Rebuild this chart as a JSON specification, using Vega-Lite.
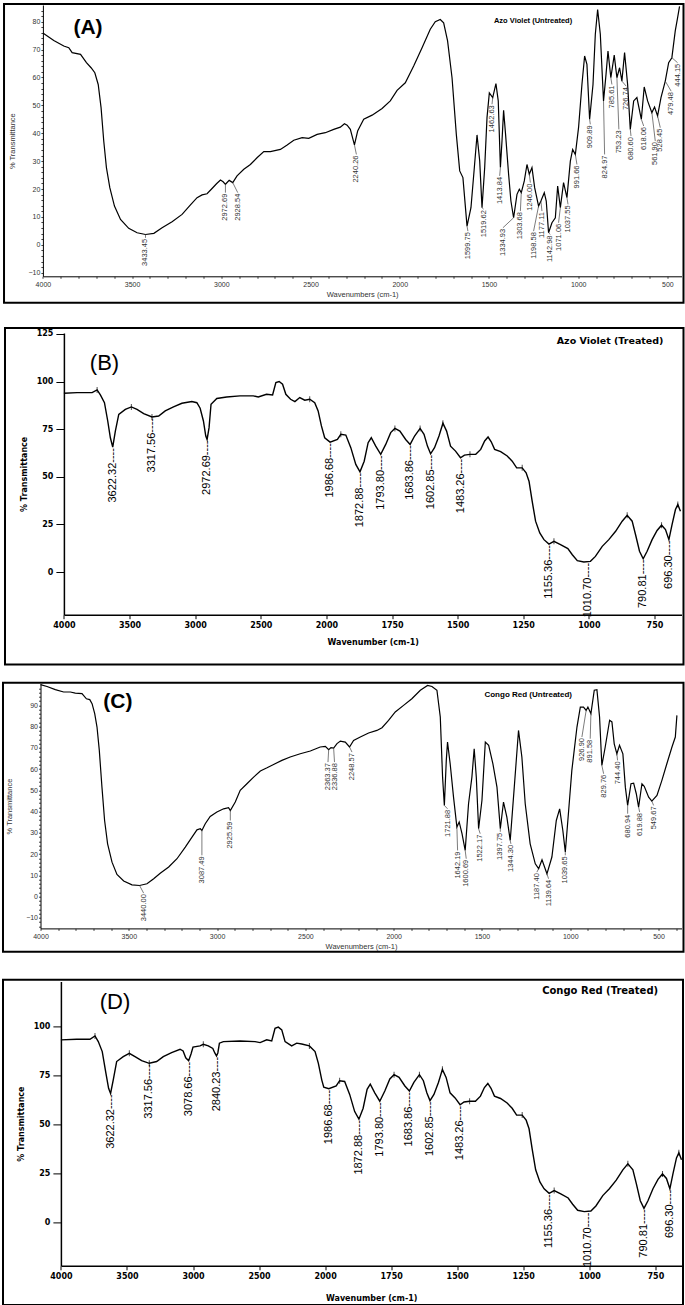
{
"$schema":"https://vega.github.io/schema/vega-lite/v6.json",
"padding":{"left":1.5,"top":2,"right":0,"bottom":0},
"background":"white",
"config":{"view":{"stroke":null},"axis":{"grid":false,"labelFlush":false,"labelOverlap":false}},
"datasets":{
"a_curve":[{"w":4000,"t":76.0},{"w":3939,"t":73.3},{"w":3883,"t":71.3},{"w":3855,"t":70.7},{"w":3836,"t":68.9},{"w":3789,"t":68.3},{"w":3756,"t":65.3},{"w":3730,"t":63.5},{"w":3709,"t":61.7},{"w":3690,"t":57.5},{"w":3674,"t":49.2},{"w":3659,"t":37.2},{"w":3644,"t":27.7},{"w":3625,"t":20.5},{"w":3599,"t":13.9},{"w":3565,"t":9.1},{"w":3519,"t":5.9},{"w":3472,"t":4.3},{"w":3425,"t":3.7},{"w":3378,"t":4.1},{"w":3332,"t":6.1},{"w":3276,"t":8.3},{"w":3220,"t":10.9},{"w":3173,"t":14.3},{"w":3136,"t":16.9},{"w":3108,"t":17.9},{"w":3080,"t":18.3},{"w":3052,"t":20.2},{"w":3027,"t":21.9},{"w":3005,"t":23.2},{"w":2990,"t":22.6},{"w":2977,"t":21.7},{"w":2956,"t":23.1},{"w":2936,"t":22.3},{"w":2912,"t":24.7},{"w":2874,"t":27.1},{"w":2837,"t":28.8},{"w":2800,"t":31.2},{"w":2762,"t":33.4},{"w":2725,"t":33.4},{"w":2669,"t":34.2},{"w":2631,"t":35.8},{"w":2594,"t":37.5},{"w":2547,"t":38.4},{"w":2510,"t":38.2},{"w":2463,"t":39.6},{"w":2417,"t":40.2},{"w":2370,"t":41.4},{"w":2333,"t":42.2},{"w":2310,"t":43.4},{"w":2295,"t":42.9},{"w":2277,"t":41.4},{"w":2254,"t":35.8},{"w":2236,"t":40.8},{"w":2202,"t":45.0},{"w":2155,"t":46.5},{"w":2099,"t":48.9},{"w":2053,"t":51.6},{"w":2015,"t":55.4},{"w":1969,"t":58.1},{"w":1922,"t":64.1},{"w":1875,"t":70.7},{"w":1829,"t":77.3},{"w":1801,"t":80.0},{"w":1773,"t":80.8},{"w":1754,"t":79.6},{"w":1732,"t":73.1},{"w":1707,"t":59.9},{"w":1683,"t":39.6},{"w":1664,"t":26.5},{"w":1646,"t":24.1},{"w":1623,"t":6.7},{"w":1601,"t":13.3},{"w":1582,"t":27.7},{"w":1567,"t":39.4},{"w":1552,"t":30.1},{"w":1539,"t":13.3},{"w":1524,"t":27.7},{"w":1511,"t":45.6},{"w":1498,"t":54.5},{"w":1479,"t":52.8},{"w":1461,"t":57.8},{"w":1448,"t":51.6},{"w":1436,"t":27.7},{"w":1427,"t":37.2},{"w":1418,"t":48.2},{"w":1407,"t":39.6},{"w":1390,"t":25.3},{"w":1377,"t":15.7},{"w":1362,"t":9.7},{"w":1343,"t":18.1},{"w":1330,"t":19.9},{"w":1319,"t":18.7},{"w":1302,"t":22.9},{"w":1287,"t":28.8},{"w":1274,"t":25.3},{"w":1259,"t":27.7},{"w":1244,"t":20.5},{"w":1222,"t":13.9},{"w":1209,"t":15.7},{"w":1190,"t":18.7},{"w":1179,"t":15.7},{"w":1166,"t":4.3},{"w":1147,"t":7.9},{"w":1128,"t":9.7},{"w":1115,"t":21.1},{"w":1100,"t":13.3},{"w":1082,"t":22.3},{"w":1063,"t":16.9},{"w":1044,"t":30.0},{"w":1031,"t":34.2},{"w":1016,"t":32.4},{"w":998,"t":42.0},{"w":979,"t":57.5},{"w":964,"t":67.7},{"w":951,"t":64.7},{"w":936,"t":45.0},{"w":917,"t":57.5},{"w":904,"t":75.5},{"w":891,"t":84.4},{"w":876,"t":75.5},{"w":858,"t":51.6},{"w":844,"t":61.1},{"w":833,"t":69.5},{"w":817,"t":59.9},{"w":798,"t":68.0},{"w":783,"t":59.9},{"w":768,"t":63.5},{"w":755,"t":58.7},{"w":740,"t":68.9},{"w":723,"t":57.5},{"w":708,"t":41.4},{"w":689,"t":51.6},{"w":671,"t":52.8},{"w":646,"t":45.0},{"w":630,"t":56.6},{"w":611,"t":51.6},{"w":587,"t":47.4},{"w":572,"t":49.4},{"w":555,"t":46.2},{"w":536,"t":52.8},{"w":512,"t":58.7},{"w":493,"t":65.3},{"w":475,"t":67.1},{"w":456,"t":76.7},{"w":443,"t":81.4},{"w":432,"t":85.5}],
"a_peaks":[{"px":3425,"pt":3.7,"lx":3425,"ly":2.5,"label":"3433.45"},{"px":2977,"pt":21.7,"lx":2977,"ly":18.7,"label":"2972.69"},{"px":2936,"pt":22.3,"lx":2908,"ly":18.7,"label":"2928.54"},{"px":2254,"pt":35.8,"lx":2243,"ly":32.4,"label":"2240.26"},{"px":1623,"pt":6.7,"lx":1618,"ly":4.9,"label":"1599.75"},{"px":1539,"pt":13.3,"lx":1530,"ly":12.8,"label":"1519.62"},{"px":1479,"pt":52.8,"lx":1483,"ly":50.4,"label":"1462.63"},{"px":1436,"pt":27.7,"lx":1440,"ly":24.7,"label":"1413.84"},{"px":1362,"pt":9.7,"lx":1422,"ly":6.1,"label":"1334.93"},{"px":1319,"pt":18.7,"lx":1324,"ly":12.1,"label":"1303.68"},{"px":1274,"pt":25.3,"lx":1268,"ly":22.3,"label":"1246.00"},{"px":1222,"pt":13.9,"lx":1250,"ly":4.9,"label":"1198.58"},{"px":1209,"pt":15.7,"lx":1203,"ly":12.1,"label":"1177.11"},{"px":1166,"pt":4.3,"lx":1156,"ly":3.7,"label":"1142.98"},{"px":1100,"pt":13.3,"lx":1110,"ly":7.9,"label":"1071.06"},{"px":1063,"pt":16.9,"lx":1057,"ly":14.5,"label":"1037.55"},{"px":1016,"pt":32.4,"lx":1007,"ly":28.8,"label":"991.66"},{"px":936,"pt":45.0,"lx":932,"ly":43.2,"label":"909.89"},{"px":858,"pt":51.6,"lx":852,"ly":32.4,"label":"824.97"},{"px":817,"pt":59.9,"lx":811,"ly":57.5,"label":"785.61"},{"px":783,"pt":59.9,"lx":772,"ly":41.4,"label":"753.23"},{"px":755,"pt":58.7,"lx":731,"ly":56.9,"label":"726.74"},{"px":708,"pt":41.4,"lx":704,"ly":39.0,"label":"680.60"},{"px":646,"pt":45.0,"lx":633,"ly":42.6,"label":"618.06"},{"px":587,"pt":47.4,"lx":568,"ly":37.2,"label":"561.90"},{"px":555,"pt":46.2,"lx":540,"ly":42.0,"label":"528.45"},{"px":512,"pt":58.7,"lx":479,"ly":55.1,"label":"479.48"},{"px":475,"pt":67.1,"lx":443,"ly":65.3,"label":"444.15"}],
"b_curve":[{"w":4000,"t":93.9},{"w":3899,"t":94.2},{"w":3785,"t":94.2},{"w":3747,"t":95.6},{"w":3722,"t":93.0},{"w":3691,"t":88.9},{"w":3666,"t":79.3},{"w":3646,"t":70.5},{"w":3628,"t":65.6},{"w":3608,"t":74.0},{"w":3582,"t":82.8},{"w":3532,"t":85.4},{"w":3486,"t":86.7},{"w":3443,"t":85.4},{"w":3392,"t":83.2},{"w":3329,"t":81.4},{"w":3278,"t":81.9},{"w":3228,"t":84.6},{"w":3165,"t":86.7},{"w":3101,"t":88.6},{"w":3025,"t":89.5},{"w":2987,"t":88.9},{"w":2962,"t":86.0},{"w":2937,"t":79.3},{"w":2919,"t":71.4},{"w":2909,"t":69.6},{"w":2894,"t":75.8},{"w":2879,"t":88.1},{"w":2835,"t":91.1},{"w":2760,"t":91.9},{"w":2658,"t":92.5},{"w":2557,"t":92.5},{"w":2519,"t":91.9},{"w":2456,"t":93.3},{"w":2410,"t":93.0},{"w":2385,"t":99.5},{"w":2360,"t":100.0},{"w":2334,"t":98.6},{"w":2309,"t":93.3},{"w":2273,"t":90.7},{"w":2240,"t":89.5},{"w":2203,"t":91.6},{"w":2165,"t":90.2},{"w":2127,"t":90.7},{"w":2089,"t":88.9},{"w":2063,"t":84.6},{"w":2038,"t":76.7},{"w":2013,"t":70.5},{"w":1986,"t":68.2},{"w":1958,"t":69.6},{"w":1945,"t":72.3},{"w":1926,"t":71.9},{"w":1907,"t":65.3},{"w":1888,"t":56.5},{"w":1872,"t":52.6},{"w":1856,"t":58.2},{"w":1841,"t":67.9},{"w":1829,"t":70.5},{"w":1812,"t":66.1},{"w":1793,"t":61.8},{"w":1774,"t":67.0},{"w":1755,"t":73.2},{"w":1739,"t":75.4},{"w":1720,"t":74.0},{"w":1698,"t":69.6},{"w":1681,"t":67.0},{"w":1664,"t":71.4},{"w":1643,"t":75.4},{"w":1628,"t":72.3},{"w":1615,"t":66.1},{"w":1603,"t":62.1},{"w":1588,"t":65.3},{"w":1571,"t":71.4},{"w":1556,"t":78.1},{"w":1542,"t":74.0},{"w":1527,"t":66.1},{"w":1508,"t":63.5},{"w":1489,"t":60.0},{"w":1474,"t":61.4},{"w":1453,"t":61.8},{"w":1431,"t":61.8},{"w":1412,"t":64.4},{"w":1397,"t":68.8},{"w":1384,"t":70.9},{"w":1372,"t":68.4},{"w":1359,"t":64.4},{"w":1336,"t":63.2},{"w":1311,"t":60.9},{"w":1292,"t":58.2},{"w":1275,"t":54.7},{"w":1254,"t":54.7},{"w":1239,"t":52.1},{"w":1228,"t":47.7},{"w":1216,"t":37.2},{"w":1203,"t":26.7},{"w":1187,"t":20.5},{"w":1171,"t":17.0},{"w":1152,"t":14.7},{"w":1133,"t":16.1},{"w":1108,"t":14.4},{"w":1080,"t":12.3},{"w":1063,"t":9.1},{"w":1044,"t":6.0},{"w":1019,"t":5.3},{"w":994,"t":5.6},{"w":975,"t":8.2},{"w":949,"t":13.5},{"w":924,"t":17.0},{"w":898,"t":21.4},{"w":873,"t":26.7},{"w":854,"t":29.8},{"w":835,"t":26.7},{"w":822,"t":19.6},{"w":807,"t":10.9},{"w":793,"t":7.0},{"w":778,"t":10.9},{"w":759,"t":17.0},{"w":740,"t":21.8},{"w":723,"t":24.6},{"w":708,"t":22.3},{"w":695,"t":17.0},{"w":683,"t":24.9},{"w":670,"t":32.8},{"w":661,"t":35.4},{"w":651,"t":31.9}],
"b_marks":[{"w":3747,"t":95.6},{"w":3486,"t":86.7},{"w":3329,"t":81.4},{"w":2127,"t":90.7},{"w":1945,"t":72.3},{"w":1739,"t":75.4},{"w":1643,"t":75.4},{"w":1556,"t":78.1},{"w":1453,"t":61.8},{"w":1254,"t":54.7},{"w":1133,"t":16.1},{"w":854,"t":29.8},{"w":723,"t":24.6},{"w":661,"t":35.4}],
"b_peaks":[{"w":3628,"t":65.6,"label":"3622.32----"},{"w":3329,"t":81.4,"label":"3317.56----"},{"w":2909,"t":69.6,"label":"2972.69----"},{"w":1986,"t":68.2,"label":"1986.68----"},{"w":1872,"t":52.6,"label":"1872.88----"},{"w":1793,"t":61.8,"label":"1793.80----"},{"w":1681,"t":67.0,"label":"1683.86----"},{"w":1603,"t":62.1,"label":"1602.85----"},{"w":1489,"t":60.0,"label":"1483.26----"},{"w":1152,"t":14.7,"label":"1155.36----"},{"w":1004,"t":5.3,"label":"1010.70----"},{"w":793,"t":7.0,"label":"790.81----"},{"w":695,"t":17.0,"label":"696.30----"}],
"c_curve":[{"w":4000,"t":99.8},{"w":3963,"t":98.9},{"w":3916,"t":97.4},{"w":3869,"t":96.3},{"w":3831,"t":96.3},{"w":3803,"t":95.8},{"w":3765,"t":95.5},{"w":3740,"t":93.1},{"w":3721,"t":92.7},{"w":3708,"t":90.8},{"w":3693,"t":86.1},{"w":3680,"t":79.8},{"w":3667,"t":68.8},{"w":3652,"t":51.5},{"w":3637,"t":35.8},{"w":3620,"t":24.8},{"w":3595,"t":16.2},{"w":3567,"t":10.4},{"w":3529,"t":7.3},{"w":3482,"t":5.5},{"w":3439,"t":5.2},{"w":3397,"t":6.0},{"w":3359,"t":8.4},{"w":3322,"t":11.0},{"w":3274,"t":13.9},{"w":3227,"t":17.8},{"w":3180,"t":23.3},{"w":3142,"t":28.0},{"w":3114,"t":31.4},{"w":3095,"t":31.9},{"w":3086,"t":31.1},{"w":3067,"t":34.3},{"w":3039,"t":37.7},{"w":3001,"t":39.8},{"w":2963,"t":41.3},{"w":2935,"t":41.8},{"w":2925,"t":40.5},{"w":2897,"t":44.5},{"w":2869,"t":50.0},{"w":2831,"t":53.1},{"w":2793,"t":56.2},{"w":2755,"t":59.1},{"w":2717,"t":60.6},{"w":2680,"t":62.2},{"w":2633,"t":64.1},{"w":2586,"t":65.7},{"w":2529,"t":67.2},{"w":2472,"t":68.5},{"w":2416,"t":70.4},{"w":2387,"t":70.7},{"w":2368,"t":69.1},{"w":2355,"t":70.1},{"w":2340,"t":69.9},{"w":2321,"t":72.0},{"w":2302,"t":73.2},{"w":2274,"t":72.7},{"w":2250,"t":70.4},{"w":2227,"t":73.5},{"w":2189,"t":75.1},{"w":2142,"t":77.0},{"w":2095,"t":78.2},{"w":2066,"t":79.5},{"w":2029,"t":82.9},{"w":1991,"t":86.9},{"w":1944,"t":90.0},{"w":1897,"t":93.1},{"w":1849,"t":97.1},{"w":1808,"t":99.4},{"w":1783,"t":98.9},{"w":1755,"t":97.1},{"w":1736,"t":84.5},{"w":1723,"t":56.2},{"w":1713,"t":42.9},{"w":1702,"t":64.1},{"w":1695,"t":72.7},{"w":1680,"t":62.5},{"w":1661,"t":46.8},{"w":1642,"t":32.7},{"w":1629,"t":35.1},{"w":1613,"t":29.6},{"w":1595,"t":21.7},{"w":1576,"t":43.7},{"w":1557,"t":56.2},{"w":1544,"t":69.6},{"w":1532,"t":56.2},{"w":1519,"t":31.9},{"w":1500,"t":45.3},{"w":1481,"t":72.7},{"w":1462,"t":71.2},{"w":1438,"t":62.5},{"w":1415,"t":51.5},{"w":1396,"t":31.9},{"w":1378,"t":44.5},{"w":1359,"t":37.4},{"w":1340,"t":26.4},{"w":1317,"t":51.5},{"w":1293,"t":78.2},{"w":1274,"t":65.7},{"w":1255,"t":43.7},{"w":1227,"t":24.8},{"w":1198,"t":15.4},{"w":1179,"t":13.1},{"w":1160,"t":17.3},{"w":1132,"t":10.7},{"w":1104,"t":18.6},{"w":1079,"t":35.8},{"w":1060,"t":41.3},{"w":1042,"t":31.1},{"w":1028,"t":21.0},{"w":1009,"t":40.5},{"w":991,"t":59.4},{"w":962,"t":79.8},{"w":943,"t":89.2},{"w":925,"t":89.2},{"w":910,"t":87.6},{"w":900,"t":89.2},{"w":883,"t":86.1},{"w":864,"t":97.1},{"w":849,"t":97.4},{"w":834,"t":84.5},{"w":821,"t":61.7},{"w":802,"t":70.4},{"w":777,"t":83.0},{"w":764,"t":82.2},{"w":751,"t":71.9},{"w":736,"t":67.2},{"w":721,"t":71.2},{"w":702,"t":67.2},{"w":688,"t":51.5},{"w":675,"t":42.9},{"w":656,"t":53.1},{"w":641,"t":53.4},{"w":626,"t":48.4},{"w":613,"t":42.1},{"w":594,"t":53.1},{"w":581,"t":51.9},{"w":556,"t":46.8},{"w":538,"t":44.9},{"w":509,"t":47.6},{"w":481,"t":54.7},{"w":453,"t":62.5},{"w":424,"t":70.4},{"w":405,"t":75.1},{"w":396,"t":85.3}],
"c_peaks":[{"px":3439,"pt":5.2,"lx":3416,"ly":1.6,"label":"3440.00"},{"px":3086,"pt":31.1,"lx":3086,"ly":19.4,"label":"3087.49"},{"px":2925,"pt":40.5,"lx":2925,"ly":35.8,"label":"2925.59"},{"px":2368,"pt":69.1,"lx":2372,"ly":63.3,"label":"2363.37"},{"px":2340,"pt":69.9,"lx":2335,"ly":63.3,"label":"2336.88"},{"px":2250,"pt":70.4,"lx":2236,"ly":68.0,"label":"2248.57"},{"px":1713,"pt":42.9,"lx":1695,"ly":41.3,"label":"1721.88"},{"px":1642,"pt":32.7,"lx":1638,"ly":21.7,"label":"1642.19"},{"px":1595,"pt":21.7,"lx":1589,"ly":17.8,"label":"1600.69"},{"px":1519,"pt":31.9,"lx":1510,"ly":29.6,"label":"1522.17"},{"px":1396,"pt":31.9,"lx":1396,"ly":30.5,"label":"1397.75"},{"px":1340,"pt":26.4,"lx":1336,"ly":24.8,"label":"1344.30"},{"px":1179,"pt":13.1,"lx":1189,"ly":11.5,"label":"1187.40"},{"px":1132,"pt":10.7,"lx":1123,"ly":8.4,"label":"1139.64"},{"px":1028,"pt":21.0,"lx":1028,"ly":19.4,"label":"1039.65"},{"px":910,"pt":87.6,"lx":934,"ly":75.1,"label":"926.90"},{"px":883,"pt":86.1,"lx":887,"ly":74.3,"label":"891.58"},{"px":821,"pt":61.7,"lx":811,"ly":57.8,"label":"829.76"},{"px":736,"pt":67.2,"lx":732,"ly":64.1,"label":"744.40"},{"px":675,"pt":42.9,"lx":675,"ly":39.0,"label":"680.94"},{"px":613,"pt":42.1,"lx":607,"ly":39.8,"label":"619.88"},{"px":538,"pt":44.9,"lx":528,"ly":42.9,"label":"549.67"}],
"d_curve":[{"w":4000,"t":93.2},{"w":3881,"t":93.5},{"w":3780,"t":93.5},{"w":3742,"t":95.2},{"w":3717,"t":92.3},{"w":3687,"t":87.2},{"w":3659,"t":76.1},{"w":3639,"t":68.4},{"w":3624,"t":65.8},{"w":3604,"t":72.6},{"w":3578,"t":82.1},{"w":3528,"t":84.6},{"w":3482,"t":86.3},{"w":3439,"t":84.6},{"w":3389,"t":82.6},{"w":3331,"t":81.2},{"w":3275,"t":82.1},{"w":3225,"t":84.6},{"w":3162,"t":86.7},{"w":3098,"t":88.4},{"w":3075,"t":87.5},{"w":3055,"t":84.0},{"w":3033,"t":82.5},{"w":3015,"t":86.0},{"w":3000,"t":89.5},{"w":2947,"t":90.1},{"w":2922,"t":90.9},{"w":2884,"t":90.1},{"w":2850,"t":88.8},{"w":2835,"t":86.5},{"w":2822,"t":85.0},{"w":2812,"t":86.5},{"w":2800,"t":91.5},{"w":2770,"t":92.3},{"w":2644,"t":92.6},{"w":2530,"t":92.3},{"w":2492,"t":91.8},{"w":2442,"t":93.2},{"w":2404,"t":92.6},{"w":2379,"t":99.1},{"w":2354,"t":99.7},{"w":2328,"t":98.3},{"w":2303,"t":92.3},{"w":2253,"t":90.1},{"w":2215,"t":91.5},{"w":2177,"t":91.1},{"w":2119,"t":90.1},{"w":2076,"t":87.2},{"w":2051,"t":81.2},{"w":2025,"t":72.6},{"w":2010,"t":69.0},{"w":1986,"t":68.2},{"w":1958,"t":69.6},{"w":1945,"t":72.3},{"w":1926,"t":71.9},{"w":1907,"t":65.3},{"w":1888,"t":56.5},{"w":1872,"t":52.6},{"w":1856,"t":58.2},{"w":1841,"t":67.9},{"w":1829,"t":70.5},{"w":1812,"t":66.1},{"w":1793,"t":61.8},{"w":1774,"t":67.0},{"w":1755,"t":73.2},{"w":1739,"t":75.4},{"w":1720,"t":74.0},{"w":1698,"t":69.6},{"w":1681,"t":67.0},{"w":1664,"t":71.4},{"w":1643,"t":75.4},{"w":1628,"t":72.3},{"w":1615,"t":66.1},{"w":1603,"t":62.1},{"w":1588,"t":65.3},{"w":1571,"t":71.4},{"w":1556,"t":78.1},{"w":1542,"t":74.0},{"w":1527,"t":66.1},{"w":1508,"t":63.5},{"w":1489,"t":60.0},{"w":1474,"t":61.4},{"w":1453,"t":61.8},{"w":1431,"t":61.8},{"w":1412,"t":64.4},{"w":1397,"t":68.8},{"w":1384,"t":70.9},{"w":1372,"t":68.4},{"w":1359,"t":64.4},{"w":1336,"t":63.2},{"w":1311,"t":60.9},{"w":1292,"t":58.2},{"w":1275,"t":54.7},{"w":1254,"t":54.7},{"w":1239,"t":52.1},{"w":1228,"t":47.7},{"w":1216,"t":37.2},{"w":1203,"t":26.7},{"w":1187,"t":20.5},{"w":1171,"t":17.0},{"w":1152,"t":14.7},{"w":1133,"t":16.1},{"w":1108,"t":14.4},{"w":1080,"t":12.3},{"w":1063,"t":9.1},{"w":1044,"t":6.0},{"w":1019,"t":5.3},{"w":994,"t":5.6},{"w":975,"t":8.2},{"w":949,"t":13.5},{"w":924,"t":17.0},{"w":898,"t":21.4},{"w":873,"t":26.7},{"w":854,"t":29.8},{"w":835,"t":26.7},{"w":822,"t":19.6},{"w":807,"t":10.9},{"w":793,"t":7.0},{"w":778,"t":10.9},{"w":759,"t":17.0},{"w":740,"t":21.8},{"w":723,"t":24.6},{"w":708,"t":22.3},{"w":695,"t":17.0},{"w":683,"t":24.9},{"w":670,"t":32.8},{"w":661,"t":35.4},{"w":651,"t":31.9}],
"d_marks":[{"w":3742,"t":95.2},{"w":3482,"t":86.3},{"w":3331,"t":81.2},{"w":2922,"t":90.9},{"w":2119,"t":90.1},{"w":1945,"t":72.3},{"w":1739,"t":75.4},{"w":1643,"t":75.4},{"w":1556,"t":78.1},{"w":1453,"t":61.8},{"w":1254,"t":54.7},{"w":1133,"t":16.1},{"w":854,"t":29.8},{"w":723,"t":24.6},{"w":661,"t":35.4}],
"d_peaks":[{"w":3624,"t":65.8,"label":"3622.32----"},{"w":3331,"t":81.2,"label":"3317.56----"},{"w":3033,"t":82.5,"label":"3078.66----"},{"w":2822,"t":85.0,"label":"2840.23----"},{"w":1986,"t":68.2,"label":"1986.68----"},{"w":1872,"t":52.6,"label":"1872.88----"},{"w":1793,"t":61.8,"label":"1793.80----"},{"w":1681,"t":67.0,"label":"1683.86----"},{"w":1603,"t":62.1,"label":"1602.85----"},{"w":1489,"t":60.0,"label":"1483.26----"},{"w":1152,"t":14.7,"label":"1155.36----"},{"w":1004,"t":5.3,"label":"1010.70----"},{"w":793,"t":7.0,"label":"790.81----"},{"w":695,"t":17.0,"label":"696.30----"}]
},
"spacing":15.7,
"vconcat":[
{"spacing":23,"vconcat":[
{"width":641,"height":271.3,"layer":[
{"data":{"name":"a_curve"},"mark":{"type":"line","color":"black","strokeWidth":1.2},
"encoding":{
"x":{"field":"w","type":"quantitative","scale":{"domain":[4000,421],"range":[2.4,641],"nice":false,"zero":false},
"axis":{"values":[4000,3900,3800,3700,3600,3500,3400,3300,3200,3100,3000,2900,2800,2700,2600,2500,2400,2300,2200,2100,2000,1900,1800,1700,1600,1500,1400,1300,1200,1100,1000,900,800,700,600,500],"tickCount":200,"format":"d","labelExpr":"datum.value % 500 === 0 ? datum.label : ''","labelFont":"Liberation Sans","labelFontSize":7,"labelColor":"#333","tickSize":2,"tickColor":"#444","labelPadding":2,"domainColor":"black","title":"Wavenumbers (cm-1)","titleFont":"Liberation Sans","titleFontSize":7.5,"titleFontWeight":"normal","titleColor":"#333","titlePadding":3}},
"y":{"field":"t","type":"quantitative","scale":{"domain":[-11.3,86],"nice":false,"zero":false},
"axis":{"values":[-10,-8,-6,-4,-2,0,2,4,6,8,10,12,14,16,18,20,22,24,26,28,30,32,34,36,38,40,42,44,46,48,50,52,54,56,58,60,62,64,66,68,70,72,74,76,78,80,82,84],"tickCount":200,"format":"d","labelExpr":"datum.value % 10 === 0 ? datum.label : ''","offset":-2.4,"labelFont":"Liberation Sans","labelFontSize":7,"labelColor":"#333","tickSize":2,"tickColor":"#444","labelPadding":1,"domainColor":"black","title":"% Transmittance","titleFont":"Liberation Sans","titleFontSize":7.5,"titleFontWeight":"normal","titleColor":"#333","titlePadding":12}}}},
{"data":{"name":"a_peaks"},"mark":{"type":"rule","color":"#444","strokeWidth":0.7},
"encoding":{"x":{"field":"px","type":"quantitative"},"x2":{"field":"lx"},"y":{"field":"pt","type":"quantitative"},"y2":{"field":"ly"}}},
{"data":{"name":"a_peaks"},"mark":{"type":"text","angle":270,"align":"right","baseline":"middle","font":"Liberation Sans","fontSize":7.5,"color":"#333","dx":-1},
"encoding":{"x":{"field":"lx","type":"quantitative"},"y":{"field":"ly","type":"quantitative"},"text":{"field":"label"}}},
{"data":{"values":[{}]},"mark":{"type":"rect","fillOpacity":0,"stroke":"black","strokeWidth":2},
"encoding":{"x":{"datum":4217.9,"type":"quantitative"},"x2":{"datum":409.8},"y":{"datum":86.36,"type":"quantitative"},"y2":{"datum":-20.77}}},
{"data":{"values":[{}]},"mark":{"type":"text","text":"(A)","font":"Liberation Sans","fontSize":21,"fontWeight":"bold","align":"left","baseline":"middle","color":"black"},
"encoding":{"x":{"datum":3829,"type":"quantitative"},"y":{"datum":77.9,"type":"quantitative"}}},
{"data":{"values":[{}]},"mark":{"type":"text","text":"Azo Violet (Untreated)","font":"Liberation Sans","fontSize":7.5,"fontWeight":"bold","align":"center","baseline":"middle","color":"black"},
"encoding":{"x":{"datum":1253,"type":"quantitative"},"y":{"datum":80.4,"type":"quantitative"}}}
]},
{"width":641,"height":281.7,"layer":[
{"data":{"name":"b_curve"},"mark":{"type":"line","color":"black","strokeWidth":1.4},
"encoding":{
"x":{"field":"w","type":"quantitative","scale":{"domain":[4000,2000,647],"range":[23.4,285.9,641],"nice":false,"zero":false},
"axis":{"values":[4000,3500,3000,2500,2000,1750,1500,1250,1000,750],"tickCount":200,"format":"d","labelFont":"DejaVu Sans","labelFontWeight":"bold","labelFontSize":8,"labelColor":"black","tickSize":4,"tickColor":"black","labelPadding":3,"domainColor":"black","domainWidth":1.5,"title":"Wavenumber (cm-1)","titleFont":"DejaVu Sans","titleFontSize":8,"titleFontWeight":"bold","titleColor":"black","titlePadding":9}},
"y":{"field":"t","type":"quantitative","scale":{"domain":[-22.4,125.5],"nice":false,"zero":false},
"axis":{"values":[0,25,50,75,100,125],"tickCount":200,"format":"d","offset":-23.4,"labelFont":"DejaVu Sans","labelFontWeight":"bold","labelFontSize":8,"labelColor":"black","tickSize":8,"tickColor":"black","labelPadding":3,"domainColor":"black","domainWidth":1.5,"title":"% Transmittance","titleFont":"DejaVu Sans","titleFontSize":8,"titleFontWeight":"bold","titleColor":"black","titlePadding":8}}}},
{"data":{"name":"b_marks"},"mark":{"type":"tick","orient":"vertical","size":6,"thickness":1,"color":"black"},
"encoding":{"x":{"field":"w","type":"quantitative"},"y":{"field":"t","type":"quantitative"}}},
{"data":{"name":"b_peaks"},"mark":{"type":"text","angle":270,"align":"right","baseline":"middle","font":"Liberation Sans","fontSize":11,"color":"black","dx":-1},
"encoding":{"x":{"field":"w","type":"quantitative"},"y":{"field":"t","type":"quantitative"},"text":{"field":"label"}}},
{"data":{"values":[{}]},"mark":{"type":"rect","fillOpacity":0,"stroke":"black","strokeWidth":2},
"encoding":{"x":{"datum":4448.8,"type":"quantitative"},"x2":{"datum":639.4},"y":{"datum":128.1,"type":"quantitative"},"y2":{"datum":-48.6}}},
{"data":{"values":[{}]},"mark":{"type":"text","text":"(B)","font":"Liberation Sans","fontSize":22,"align":"center","baseline":"middle","color":"black"},
"encoding":{"x":{"datum":3691,"type":"quantitative"},"y":{"datum":109.7,"type":"quantitative"}}},
{"data":{"values":[{}]},"mark":{"type":"text","text":"Azo Violet  (Treated)","font":"DejaVu Sans","fontSize":9.5,"fontWeight":"bold","align":"center","baseline":"middle","color":"black"},
"encoding":{"x":{"datum":919,"type":"quantitative"},"y":{"datum":121.4,"type":"quantitative"}}}
]}
]},
{"spacing":24.7,"vconcat":[
{"width":641,"height":244.7,"layer":[
{"data":{"name":"c_curve"},"mark":{"type":"line","color":"black","strokeWidth":1.2},
"encoding":{
"x":{"field":"w","type":"quantitative","scale":{"domain":[4000,370],"range":[0,641],"nice":false,"zero":false},
"axis":{"values":[4000,3900,3800,3700,3600,3500,3400,3300,3200,3100,3000,2900,2800,2700,2600,2500,2400,2300,2200,2100,2000,1900,1800,1700,1600,1500,1400,1300,1200,1100,1000,900,800,700,600,500,400],"tickCount":200,"format":"d","labelExpr":"datum.value % 500 === 0 ? datum.label : ''","labelFont":"Liberation Sans","labelFontSize":7,"labelColor":"#333","tickSize":2,"tickColor":"#444","labelPadding":2,"domainColor":"black","title":"Wavenumbers (cm-1)","titleFont":"Liberation Sans","titleFontSize":7.5,"titleFontWeight":"normal","titleColor":"#333","titlePadding":3}},
"y":{"field":"t","type":"quantitative","scale":{"domain":[-15,100.2],"nice":false,"zero":false},
"axis":{"values":[-14,-12,-10,-8,-6,-4,-2,0,2,4,6,8,10,12,14,16,18,20,22,24,26,28,30,32,34,36,38,40,42,44,46,48,50,52,54,56,58,60,62,64,66,68,70,72,74,76,78,80,82,84,86,88,90,92,94,96,98],"tickCount":200,"format":"d","labelExpr":"datum.value % 10 === 0 ? datum.label : ''","labelFont":"Liberation Sans","labelFontSize":7,"labelColor":"#333","tickSize":2,"tickColor":"#444","labelPadding":1,"domainColor":"black","title":"% Transmittance","titleFont":"Liberation Sans","titleFontSize":7.5,"titleFontWeight":"normal","titleColor":"#333","titlePadding":12}}}},
{"data":{"name":"c_peaks"},"mark":{"type":"rule","color":"#444","strokeWidth":0.7},
"encoding":{"x":{"field":"px","type":"quantitative"},"x2":{"field":"lx"},"y":{"field":"pt","type":"quantitative"},"y2":{"field":"ly"}}},
{"data":{"name":"c_peaks"},"mark":{"type":"text","angle":270,"align":"right","baseline":"middle","font":"Liberation Sans","fontSize":7.5,"color":"#333","dx":-1},
"encoding":{"x":{"field":"lx","type":"quantitative"},"y":{"field":"ly","type":"quantitative"},"text":{"field":"label"}}},
{"data":{"values":[{}]},"mark":{"type":"rect","fillOpacity":0,"stroke":"black","strokeWidth":2},
"encoding":{"x":{"datum":4212.4,"type":"quantitative"},"x2":{"datum":358.7},"y":{"datum":100.67,"type":"quantitative"},"y2":{"datum":-25.97}}},
{"data":{"values":[{}]},"mark":{"type":"text","text":"(C)","font":"Liberation Sans","fontSize":21,"fontWeight":"bold","align":"center","baseline":"middle","color":"black"},
"encoding":{"x":{"datum":3562,"type":"quantitative"},"y":{"datum":91.6,"type":"quantitative"}}},
{"data":{"values":[{}]},"mark":{"type":"text","text":"Congo Red (Untreated)","font":"Liberation Sans","fontSize":8,"fontWeight":"bold","align":"center","baseline":"middle","color":"black"},
"encoding":{"x":{"datum":1238,"type":"quantitative"},"y":{"datum":95.0,"type":"quantitative"}}}
]},
{"width":641,"height":284.4,"layer":[
{"data":{"name":"d_curve"},"mark":{"type":"line","color":"black","strokeWidth":1.4},
"encoding":{
"x":{"field":"w","type":"quantitative","scale":{"domain":[4000,2000,651],"range":[20.4,284.6,641],"nice":false,"zero":false},
"axis":{"values":[4000,3500,3000,2500,2000,1750,1500,1250,1000,750],"tickCount":200,"format":"d","labelFont":"DejaVu Sans","labelFontWeight":"bold","labelFontSize":8,"labelColor":"black","tickSize":4,"tickColor":"black","labelPadding":3,"domainColor":"black","domainWidth":1.5,"title":"Wavenumber (cm-1)","titleFont":"DejaVu Sans","titleFontSize":8,"titleFontWeight":"bold","titleColor":"black","titlePadding":14}},
"y":{"field":"t","type":"quantitative","scale":{"domain":[-22.4,123.1],"nice":false,"zero":false},
"axis":{"values":[0,25,50,75,100],"tickCount":200,"format":"d","offset":-20.4,"labelFont":"DejaVu Sans","labelFontWeight":"bold","labelFontSize":8,"labelColor":"black","tickSize":8,"tickColor":"black","labelPadding":3,"domainColor":"black","domainWidth":1.5,"title":"% Transmittance","titleFont":"DejaVu Sans","titleFontSize":8,"titleFontWeight":"bold","titleColor":"black","titlePadding":8}}}},
{"data":{"name":"d_marks"},"mark":{"type":"tick","orient":"vertical","size":6,"thickness":1,"color":"black"},
"encoding":{"x":{"field":"w","type":"quantitative"},"y":{"field":"t","type":"quantitative"}}},
{"data":{"name":"d_peaks"},"mark":{"type":"text","angle":270,"align":"right","baseline":"middle","font":"Liberation Sans","fontSize":11,"color":"black","dx":-1},
"encoding":{"x":{"field":"w","type":"quantitative"},"y":{"field":"t","type":"quantitative"},"text":{"field":"label"}}},
{"data":{"values":[{}]},"mark":{"type":"rect","fillOpacity":0,"stroke":"black","strokeWidth":2},
"encoding":{"x":{"datum":4438.3,"type":"quantitative"},"x2":{"datum":645.3},"y":{"datum":123.9,"type":"quantitative"},"y2":{"datum":-42.5}}},
{"data":{"values":[{}]},"mark":{"type":"text","text":"(D)","font":"Liberation Sans","fontSize":22,"align":"center","baseline":"middle","color":"black"},
"encoding":{"x":{"datum":3591,"type":"quantitative"},"y":{"datum":112.5,"type":"quantitative"}}},
{"data":{"values":[{}]},"mark":{"type":"text","text":"Congo Red (Treated)","font":"DejaVu Sans","fontSize":10,"fontWeight":"bold","align":"center","baseline":"middle","color":"black"},
"encoding":{"x":{"datum":959,"type":"quantitative"},"y":{"datum":118,"type":"quantitative"}}}
]}
]}
]
}
